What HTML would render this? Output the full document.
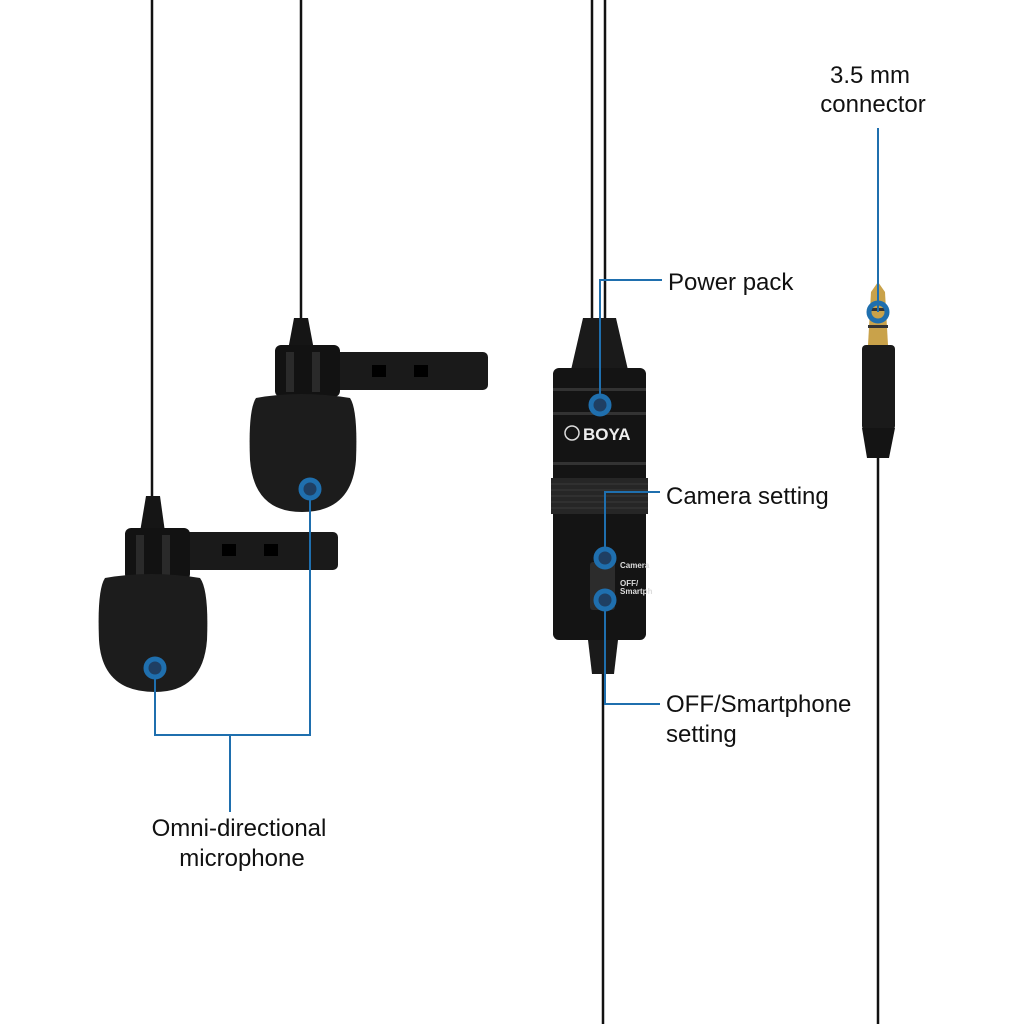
<!DOCTYPE html>
<html><head><meta charset="utf-8"><style>
html,body{margin:0;padding:0;background:#fff;}
svg{display:block;}
text{font-family:"Liberation Sans",sans-serif;fill:#111;}
</style></head><body>
<svg width="1024" height="1024" viewBox="0 0 1024 1024" xmlns="http://www.w3.org/2000/svg">
<rect width="1024" height="1024" fill="#fff"/>
<g stroke="#111" stroke-width="2.5" fill="none">
<line x1="152" y1="0" x2="152" y2="505"/>
<line x1="301" y1="0" x2="301" y2="325"/>
<line x1="592" y1="0" x2="592" y2="325"/>
<line x1="605" y1="0" x2="605" y2="325"/>
<line x1="603" y1="660" x2="603" y2="1024"/>
<line x1="878" y1="450" x2="878" y2="1024"/>
</g>
<path d="M294 318 L308 318 L314 350 L288 350 Z" fill="#151515"/>
<rect x="330" y="352" width="158" height="38" rx="5" fill="#1a1a1a"/>
<rect x="372" y="365" width="14" height="12" fill="#000"/>
<rect x="414" y="365" width="14" height="12" fill="#000"/>
<rect x="275" y="345" width="65" height="52" rx="6" fill="#121212"/>
<rect x="286" y="352" width="8" height="40" fill="#2a2a2a"/>
<rect x="312" y="352" width="8" height="40" fill="#2a2a2a"/>
<path d="M256 398 Q300 390 350 398 Q358 410 356 460 Q352 512 302 512 Q254 512 250 460 Q248 410 256 398 Z" fill="#1c1c1c"/>
<path d="M146 496 L160 496 L165 532 L140 532 Z" fill="#151515"/>
<rect x="180" y="532" width="158" height="38" rx="5" fill="#1a1a1a"/>
<rect x="222" y="544" width="14" height="12" fill="#000"/>
<rect x="264" y="544" width="14" height="12" fill="#000"/>
<rect x="125" y="528" width="65" height="52" rx="6" fill="#121212"/>
<rect x="136" y="535" width="8" height="40" fill="#2a2a2a"/>
<rect x="162" y="535" width="8" height="40" fill="#2a2a2a"/>
<path d="M105 578 Q150 570 200 578 Q209 590 207 640 Q203 692 155 692 Q102 692 99 640 Q97 590 105 578 Z" fill="#1c1c1c"/>
<path d="M583 318 L616 318 L628 370 L571 370 Z" fill="#1a1a1a"/>
<rect x="553" y="368" width="93" height="272" rx="6" fill="#141414"/>
<rect x="553" y="388" width="93" height="3" fill="#333"/>
<rect x="553" y="412" width="93" height="3" fill="#333"/>
<rect x="553" y="462" width="93" height="3" fill="#333"/>
<rect x="551" y="478" width="97" height="36" fill="#262626"/>
<g stroke="#3a3a3a" stroke-width="1">
<line x1="551" y1="484" x2="648" y2="484"/><line x1="551" y1="490" x2="648" y2="490"/><line x1="551" y1="496" x2="648" y2="496"/><line x1="551" y1="502" x2="648" y2="502"/><line x1="551" y1="508" x2="648" y2="508"/>
</g>
<circle cx="572" cy="433" r="7" fill="none" stroke="#ddd" stroke-width="1.5"/>
<text x="583" y="440" font-size="17" font-weight="bold" style="fill:#eee">BOYA</text>
<rect x="590" y="562" width="25" height="48" rx="3" fill="#2c2c2c"/>
<text x="620" y="568" font-size="8" font-weight="bold" style="fill:#ddd">Camera</text>
<text x="620" y="586" font-size="8" font-weight="bold" style="fill:#ddd">OFF/</text>
<text x="620" y="594" font-size="8" font-weight="bold" style="fill:#ddd">Smartph</text>
<path d="M588 640 L618 640 L614 674 L592 674 Z" fill="#1a1a1a"/>
<path d="M871 292 L878 282 L885 292 L888 345 L868 345 Z" fill="#c9a24a"/>
<rect x="868" y="308" width="20" height="3" fill="#333"/>
<rect x="868" y="325" width="20" height="3" fill="#333"/>
<rect x="862" y="345" width="33" height="85" rx="4" fill="#1a1a1a"/>
<path d="M862 428 L895 428 L889 458 L867 458 Z" fill="#141414"/>
<g stroke="#1f6fae" stroke-width="2" fill="none">
<polyline points="310,489 310,735 155,735 155,668"/>
<line x1="230" y1="735" x2="230" y2="812"/>
<polyline points="600,405 600,280 662,280"/>
<polyline points="605,558 605,492 660,492"/>
<polyline points="605,600 605,704 660,704"/>
<line x1="878" y1="312" x2="878" y2="128"/>
</g>
<g fill="#1f3f63" stroke="#1f6fae" stroke-width="5">
<circle cx="310" cy="489" r="9"/>
<circle cx="155" cy="668" r="9"/>
<circle cx="600" cy="405" r="9"/>
<circle cx="605" cy="558" r="9"/>
<circle cx="605" cy="600" r="9"/>
<circle cx="878" cy="312" r="9" fill="none"/>
</g>
<g font-size="24">
<text x="668" y="290">Power pack</text>
<text x="666" y="504">Camera setting</text>
<text x="666" y="712">OFF/Smartphone</text>
<text x="666" y="742">setting</text>
<text x="870" y="83" text-anchor="middle">3.5 mm</text>
<text x="873" y="112" text-anchor="middle">connector</text>
<text x="239" y="836" text-anchor="middle">Omni-directional</text>
<text x="242" y="866" text-anchor="middle">microphone</text>
</g>
</svg>
</body></html>
